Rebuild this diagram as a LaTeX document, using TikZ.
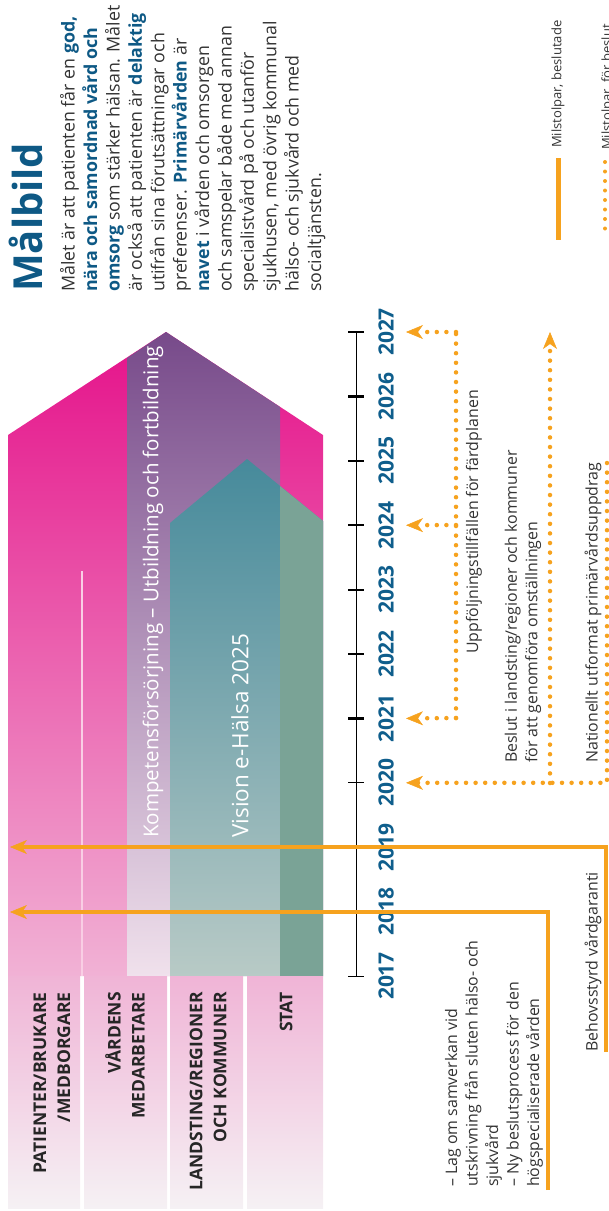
\documentclass[tikz,border=0pt]{standalone}
\usepackage{fontspec}
\setmainfont{Open Sans}
\usetikzlibrary{arrows.meta}

\definecolor{milestone}{HTML}{F6A21E}
\definecolor{yearblue}{HTML}{0F5E8C}
\definecolor{titleblue}{HTML}{0E5985}
\definecolor{pinktop}{HTML}{E5128A}
\definecolor{pinkmid}{HTML}{EC5CA7}
\definecolor{pinkbot}{HTML}{F1B2D5}
\definecolor{labeltop}{HTML}{F0B4D6}
\definecolor{labelbot}{HTML}{F5F1F4}
\definecolor{purptop}{HTML}{774A8A}
\definecolor{purpbot}{HTML}{F0E1EC}
\definecolor{tealtop}{HTML}{468A9B}
\definecolor{tealbot}{HTML}{B8CAC6}
\definecolor{statgreen}{HTML}{7AA396}
\definecolor{notegray}{HTML}{333333}

\newcommand{\blueword}[1]{\textcolor{titleblue}{\bfseries #1}}

\begin{document}
\begin{tikzpicture}[x=1pt, y=-1pt,
    labelbox/.style={top color=labeltop, bottom color=labelbot},
    actor/.style={rotate=90, anchor=east, align=right, inner sep=0pt, font=\bfseries\fontsize{17.5}{24}\selectfont, text=black!85},
    year/.style={rotate=90, inner sep=0pt, font=\bfseries\fontsize{21}{24}\selectfont, text=yearblue},
    note/.style={rotate=90, anchor=west, align=left, inner sep=0pt, font=\fontsize{15.9}{20.5}\selectfont, text=notegray},
    barlabel/.style={rotate=90, anchor=west, inner sep=0pt, font=\fontsize{20.5}{24}\selectfont, text=white},
    decided/.style={draw=milestone, line width=4pt, -{Stealth[length=17pt, width=14pt, inset=5pt, line width=0.5pt]}},
    planned/.style={draw=milestone, line width=4.5pt, line cap=round, dash pattern=on 0pt off 9.6pt},
    plantip/.style={planned, -{Stealth[length=17pt, width=14pt, inset=5pt, line width=0.5pt]}}
  ]
  \useasboundingbox (0,0) rectangle (609,1211);

  % Pink arrow, whole care system
  \shade[top color=pinktop, middle color=pinkmid, bottom color=pinkbot]
    (8,976) -- (8,435) -- (166,332) -- (323,435) -- (323,976) -- cycle;
  \draw[white!70!pinkmid, line width=2pt] (82,571) -- (82,976);

  % Kompetens arrow
  \shade[top color=purptop, bottom color=purpbot]
    (127,976) -- (127,358) -- (166,332) -- (280,407) -- (280,976) -- cycle;

  % e-Halsa arrow and the state strip
  \shade[top color=tealtop, bottom color=tealbot]
    (170,976) -- (170,523) -- (247,459) -- (323,521) -- (323,976) -- cycle;
  \fill[statgreen] (280,976) -- (280,486) -- (323,521) -- (323,976) -- cycle;

  \node[barlabel] (kompetens) at (153,838) {Kompetensförsörjning – Utbildning och fortbildning};
  \node[barlabel, font=\fontsize{22.5}{26}\selectfont] (ehalsa) at (240,838) {Vision e-Hälsa 2025};

  % Actor boxes
  \shade[labelbox] (8,976) rectangle (80,1208);
  \shade[labelbox] (84,976) rectangle (167,1208);
  \shade[labelbox] (170,976) rectangle (243,1208);
  \shade[labelbox] (247,976) rectangle (323,1208);
  \node[actor] (patient) at (52,992) {PATIENTER/BRUKARE\\/MEDBORGARE};
  \node[actor] (staff) at (125,992) {VÅRDENS\\MEDARBETARE};
  \node[actor] (region) at (208,992) {LANDSTING/REGIONER\\OCH KOMMUNER};
  \node[actor] (state) at (286,992) {STAT};

  % Time axis
  \foreach \yr in {2017,...,2027} {
    \coordinate (ax\yr) at (356,{976-64.4*(\yr-2017)});
    \coordinate (p\yr) at (406,{976-64.4*(\yr-2017)});
    \node[year] (y\yr) at (386,{976-64.4*(\yr-2017)}) {\yr};
  }
  \draw[line width=1pt] (ax2017) -- (ax2027);
  \foreach \yr in {2017,...,2020} \draw[line width=1pt] (ax\yr) ++(-8,0) -- ++(16,0);
  \foreach \yr in {2021,...,2027} \draw[line width=2.2pt] (ax\yr) ++(-8,0) -- ++(16,0);

  % Decided milestones
  \coordinate (lag) at (548,1190);
  \coordinate (behov) at (606,1052);
  \coordinate (pat2018) at (10,912);
  \coordinate (pat2019) at (10,847);
  \draw[decided] (lag) |- (pat2018);
  \draw[decided] (behov) |- (pat2019);
  \node[note] (lagtext) at (494,1187) {– Lag om samverkan vid\\utskrivning från sluten hälso- och\\sjukvård\\– Ny beslutsprocess för den\\högspecialiserade vården};
  \node[note] (behovtext) at (593,1052) {Behovsstyrd vårdgaranti};

  % Milestones for decision
  \coordinate (upp2021) at (456,718);
  \coordinate (upp2024) at (456,525);
  \coordinate (upp2027) at (456,332);
  \draw[planned] (upp2021) -- (upp2027);
  \foreach \yr in {2021,2024,2027} \draw[plantip] (upp\yr) -- (p\yr);
  \node[note, anchor=center] (upptext) at (474,522) {Uppföljningstillfällen för färdplanen};

  \coordinate (beslut) at (550,783);
  \coordinate (beslutend) at (550,332);
  \draw[plantip] (beslut) -- (beslutend);
  \node[note] (beslutext) at (523,763) {Beslut i landsting/regioner och kommuner\\för att genomföra omställningen};

  \coordinate (nat) at (607,463);
  \draw[plantip] (nat) |- (p2020);
  \node[note] (nattext) at (593,763) {Nationellt utformat primärvårdsuppdrag};

  % Goal text
  \node[rotate=90, anchor=base west, inner sep=0pt, font=\bfseries\fontsize{40}{45}\selectfont, text=titleblue] (title) at (42,292) {Målbild};
  \node[rotate=90, anchor=north west, align=left, inner sep=0pt, font=\fontsize{17.8}{22.4}\selectfont, text=notegray] (goal) at (60,292)
    {Målet är att patienten får en \blueword{god,}\\
     \blueword{nära och samordnad vård och}\\
     \blueword{omsorg} som stärker hälsan. Målet\\
     är också att patienten är \blueword{delaktig}\\
     utifrån sina förutsättningar och\\
     preferenser. \blueword{Primärvården} är\\
     \blueword{navet} i vården och omsorgen\\
     och samspelar både med annan\\
     specialistvård på och utanför\\
     sjukhusen, med övrig kommunal\\
     hälso- och sjukvård och med\\
     socialtjänsten.};

  % Legend
  \coordinate (leg1a) at (558,158);
  \coordinate (leg1b) at (558,240);
  \coordinate (leg2a) at (605,162);
  \coordinate (leg2b) at (605,238);
  \draw[draw=milestone, line width=5pt] (leg1a) -- (leg1b);
  \draw[planned, line width=4pt, dash pattern=on 0pt off 9.5pt] (leg2a) -- (leg2b);
  \node[note, font=\fontsize{13}{15}\selectfont] (legdecided) at (558,148) {Milstolpar, beslutade};
  \node[note, font=\fontsize{13}{15}\selectfont] (legplanned) at (608,150) {Milstolpar, för beslut};
\end{tikzpicture}
\end{document}
